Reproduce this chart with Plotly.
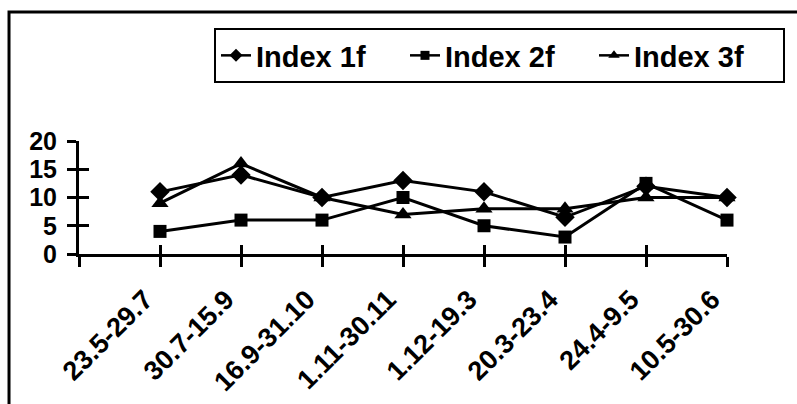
import plotly.graph_objects as go

# Sampling periods (day.month ranges)
periods = ["23.5-29.7", "30.7-15.9", "16.9-31.10", "1.11-30.11",
           "1.12-19.3", "20.3-23.4", "24.4-9.5", "10.5-30.6"]

index_1f = [11, 14, 10, 13, 11, 6.5, 12, 10]
index_2f = [4, 6, 6, 10, 5, 3, 12.5, 6]
index_3f = [9, 16, 10, 7, 8, 8, 10, 10]

y_ticks = [0, 5, 10, 15, 20]

FONT = "Liberation Sans"
pos = list(range(len(periods)))

fig = go.Figure()

series = [
    ("Index 1f", index_1f, "diamond", 15, 10),
    ("Index 2f", index_2f, "square", 13, 9),
    ("Index 3f", index_3f, "triangle-up", 15, 10),
]
for name, vals, sym, size, legend_size in series:
    fig.add_trace(go.Scatter(
        x=pos, y=vals, name=name, mode="lines+markers",
        line=dict(color="black", width=3),
        marker=dict(symbol=sym, size=size, color="black"),
        cliponaxis=False, showlegend=False,
    ))
    # legend entry with a smaller symbol
    fig.add_trace(go.Scatter(
        x=[None], y=[None], name=name, mode="lines+markers",
        line=dict(color="black", width=2.5),
        marker=dict(symbol=sym, size=legend_size, color="black"),
    ))

# invisible trace on the overlay axes so they get drawn
fig.add_trace(go.Scatter(x=[pos[0]], y=[0], xaxis="x2", yaxis="y2",
                         mode="markers", marker=dict(opacity=0),
                         showlegend=False, hoverinfo="skip"))

xfont = dict(family=FONT, size=27, color="black", weight="bold")
yfont = dict(family=FONT, size=25, color="black", weight="bold")

fig.update_layout(
    width=797, height=404,
    margin=dict(l=79, r=70, t=141, b=150, autoexpand=False),
    paper_bgcolor="white", plot_bgcolor="white",
    font=dict(family=FONT, color="black"),
    xaxis=dict(
        range=[-1, len(periods) - 1],
        tickvals=[-1] + pos, ticktext=[""] + periods,
        tickangle=-45, tickfont=xfont, automargin=False,
        ticklabelstandoff=6, ticklabelshift=-15,
        showline=True, linecolor="black", linewidth=3,
        ticks="outside", ticklen=10, tickwidth=2.5, tickcolor="black",
        showgrid=False, zeroline=False,
    ),
    yaxis=dict(
        range=[0, 20], tickvals=y_ticks, tickfont=yfont, automargin=False,
        showline=True, linecolor="black", linewidth=3,
        ticks="outside", ticklen=9, tickwidth=2.5, tickcolor="black",
        showgrid=False, zeroline=False, ticklabelstandoff=5,
    ),
    # overlay axes supply the inner half of the crossing tick marks
    xaxis2=dict(
        overlaying="x", anchor="y2", range=[-1, len(periods) - 1],
        tickvals=[-1] + pos, showticklabels=False, automargin=False,
        ticks="inside", ticklen=9, tickwidth=2.5, tickcolor="black",
        showline=False, showgrid=False, zeroline=False,
    ),
    yaxis2=dict(
        overlaying="y", anchor="x2", range=[0, 20], tickvals=y_ticks,
        showticklabels=False, automargin=False,
        ticks="inside", ticklen=10, tickwidth=2.5, tickcolor="black",
        showline=False, showgrid=False, zeroline=False,
    ),
    legend=dict(
        orientation="h", x=1.0895, xanchor="right", y=2.0, yanchor="top",
        bordercolor="black", borderwidth=2, bgcolor="white",
        font=dict(family=FONT, size=29, color="black", weight="bold"),
        itemwidth=30, tracegroupgap=0,
        entrywidth=144, entrywidthmode="pixels",
    ),
    shapes=[
        dict(type="rect", xref="paper", yref="paper",
             x0=-0.108, x1=1.2, y0=-1.6, y1=2.1416,
             line=dict(color="black", width=3), layer="below"),
    ],
    showlegend=True,
)

fig.write_html("out.html")
